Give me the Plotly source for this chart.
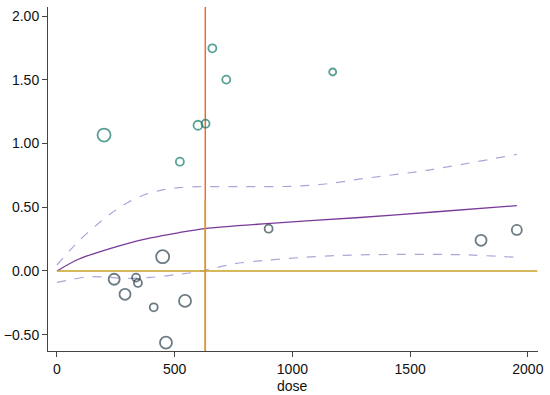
import plotly.graph_objects as go

# Study points (green group)
green_dose = [200, 522, 599, 631, 660, 719, 1171]
green_eff = [1.067, 0.858, 1.144, 1.156, 1.748, 1.502, 1.562]
green_w = [13, 8, 9, 8, 8, 8, 7]

# Study points (gray group)
gray_dose = [243, 289, 336, 344, 411, 449, 463, 544, 899, 1801, 1953]
gray_eff = [-0.065, -0.183, -0.052, -0.094, -0.285, 0.112, -0.563, -0.235, 0.332, 0.241, 0.322]
gray_w = [11, 11, 8, 8, 8, 13, 12, 12, 8, 11, 10]

# Fitted curve and confidence band
fit_x = [0, 91, 232, 374, 515, 629, 891, 1287, 1600, 1953]
fit_y = [0.0, 0.092, 0.18, 0.251, 0.30, 0.333, 0.372, 0.42, 0.463, 0.513]
up_x = [0, 90, 161, 232, 303, 374, 445, 520, 600, 800, 1000, 1150, 1300, 1570, 1953]
up_y = [0.047, 0.23, 0.35, 0.455, 0.54, 0.60, 0.635, 0.655, 0.662, 0.662, 0.665, 0.685, 0.725, 0.79, 0.915]
lo_x = [0, 69, 130, 200, 300, 400, 500, 600, 749, 891, 1032, 1200, 1330, 1712, 1953]
lo_y = [-0.089, -0.065, -0.045, -0.048, -0.058, -0.05, -0.03, -0.005, 0.055, 0.085, 0.105, 0.122, 0.128, 0.128, 0.107]

ref_dose = 630
x_ticks = [0, 500, 1000, 1500, 2000]
y_ticks = [-0.5, 0, 0.5, 1.0, 1.5, 2.0]

fig = go.Figure()
fig.add_trace(go.Scatter(x=up_x, y=up_y, mode="lines", line=dict(color="#aaa6d8", width=1.2, dash="dash", shape="spline", smoothing=0.8)))
fig.add_trace(go.Scatter(x=lo_x, y=lo_y, mode="lines", line=dict(color="#aaa6d8", width=1.2, dash="dash", shape="spline", smoothing=0.8)))
fig.add_trace(go.Scatter(x=fit_x, y=fit_y, mode="lines", line=dict(color="#7a3a9a", width=1.3, shape="spline", smoothing=0.8)))
fig.add_trace(go.Scatter(x=[0, 2040], y=[0, 0], mode="lines", line=dict(color="#c9a227", width=1.5)))
fig.add_trace(go.Scatter(x=[ref_dose, ref_dose], y=[-0.63, 2.08], mode="lines", line=dict(color="#e8702a", width=1.5)))
fig.add_trace(go.Scatter(x=[ref_dose, ref_dose], y=[-0.63, 0.56], mode="lines", line=dict(color="#c9a227", width=1.5)))
fig.add_trace(go.Scatter(x=green_dose, y=green_eff, mode="markers",
                         marker=dict(size=green_w, color="rgba(0,0,0,0)", line=dict(color="#137a68", width=1.8))))
fig.add_trace(go.Scatter(x=gray_dose, y=gray_eff, mode="markers",
                         marker=dict(size=gray_w, color="rgba(0,0,0,0)", line=dict(color="#2f4450", width=1.8))))

fig.update_layout(
    width=550, height=395,
    margin=dict(l=48, r=12, t=7, b=44, autoexpand=False),
    plot_bgcolor="white", paper_bgcolor="white",
    showlegend=False,
    font=dict(family="Liberation Sans, Arial, sans-serif", size=14, color="#111"),
    annotations=[dict(text="dose", x=1000, xref="x", y=-0.073, yref="paper",
                      xanchor="center", yanchor="top", showarrow=False, font=dict(size=14))],
)
fig.update_xaxes(range=[-38, 2043], tickvals=x_ticks, ticks="outside", ticklen=5, tickcolor="#444",
                 showline=True, linecolor="#444", linewidth=1, showgrid=False, zeroline=False, automargin=False)
fig.update_yaxes(range=[-0.628, 2.072], tickvals=y_ticks, tickformat=".2f", ticks="outside", ticklen=5,
                 tickcolor="#444", showline=True, linecolor="#444", linewidth=1, showgrid=False, zeroline=False,
                 automargin=False)

fig.write_html("out.html", config={"displayModeBar": False},
               post_script="document.body.style.margin='0';document.body.style.padding='0';")
